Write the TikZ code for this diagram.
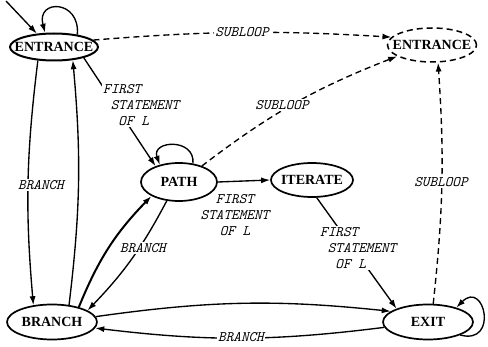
\documentclass[tikz,border=0pt]{standalone}
\usepackage{fontspec}
\setmainfont{Liberation Serif}
\usetikzlibrary{arrows.meta,shapes.geometric}
\begin{document}
\begin{tikzpicture}[x=1pt,y=1pt,
  st/.style={draw,ellipse,line width=1.7pt,inner sep=0pt},
  nt/.style={font=\fontsize{14}{16}\selectfont\bfseries,inner sep=0pt},
  lbl/.style={font=\fontsize{14.5}{16}\selectfont\ttfamily\itshape,fill=white,inner sep=1pt},
  edge/.style={line width=1.35pt,-{Latex[length=9pt,width=6pt]}},
  dedge/.style={edge,dash pattern=on 6pt off 4pt},
]
\useasboundingbox (0,0) rectangle (488,346);
% states
\node[st,minimum width=88pt,minimum height=27pt,line width=2pt] (entL) at (54,299) {};
\node[nt] (entLt) at (entL) {ENTRANCE};
\node[st,dash pattern=on 6pt off 4pt,line width=1.5pt,minimum width=89pt,minimum height=34pt] (entR) at (432,301) {};
\node[nt] (entRt) at (entR) {ENTRANCE};
\node[st,minimum width=76pt,minimum height=38pt] (path) at (179,164) {};
\node[nt] (patht) at (path) {PATH};
\node[st,minimum width=82pt,minimum height=34pt] (iter) at (312,166) {};
\node[nt] (itert) at (iter) {ITERATE};
\node[st,minimum width=90pt,minimum height=35pt] (branch) at (52,24) {};
\node[nt] (brancht) at (branch) {BRANCH};
\node[st,minimum width=90pt,minimum height=35pt] (exit) at (428,24) {};
\node[nt] (exitt) at (exit) {EXIT};
% incoming
\coordinate (in) at (6,345);
\draw[edge] (in) -- (entL.142);
% self loops
\draw[edge] (entL.28) to[out=85,in=105,looseness=2.8] (entL.122);
\draw[edge] (path.53) to[out=85,in=110,looseness=2] (path.138);
\draw[edge] (exit.338) .. controls +(-15:40) and +(45:40) .. (exit.27);
% entrance <-> branch
\draw[edge] (entL.220) to[bend right=6] (branch.138);
\draw[edge] (branch.45) to[bend right=6] (entL.325);
\node[lbl] (lb1) at (41,161) {BRANCH};
% entrance -> path
\draw[edge] (entL.340) -- (path.146);
\node[lbl,anchor=west,align=left] (lf1) at (102,241) {FIRST\\\phantom{I}STATEMENT\\\phantom{II}OF L};
% subloops
\draw[dedge] (entL.10) to[bend left=4] (entR.169);
\node[lbl] (ls1) at (242,314) {SUBLOOP};
\draw[dedge] (path.35) to[bend left=8] (entR.198);
\node[lbl] (ls2) at (282,241) {SUBLOOP};
\draw[dedge] (exit.74) to[bend right=5] (entR.289);
\node[lbl] (ls3) at (441,164) {SUBLOOP};
% path -> iterate
\draw[edge] (path.east) -- (iter.west);
\node[lbl,fill=none] (lf2) at (235,131) [align=center] {FIRST\\STATEMENT\\OF L};
% iterate -> exit
\draw[edge] (iter.285) -- (exit.157);
\node[lbl,anchor=west,align=left] (lf3) at (319,98) {FIRST\\\phantom{I}STATEMENT\\\phantom{II}OF L};
% branch <-> path
\draw[edge,line width=2pt] (branch.29) to[bend left=11] (path.207);
\draw[edge] (path.237) to[bend left=8] (branch.18);
\node[lbl] (lb2) at (143,98) {BRANCH};
% branch <-> exit
\draw[edge] (branch.7) to[bend left=7] (exit.164);
\draw[edge] (exit.187) to[bend left=7] (branch.352);
\node[lbl] (lb3) at (241,9) {BRANCH};
\end{tikzpicture}
\end{document}
